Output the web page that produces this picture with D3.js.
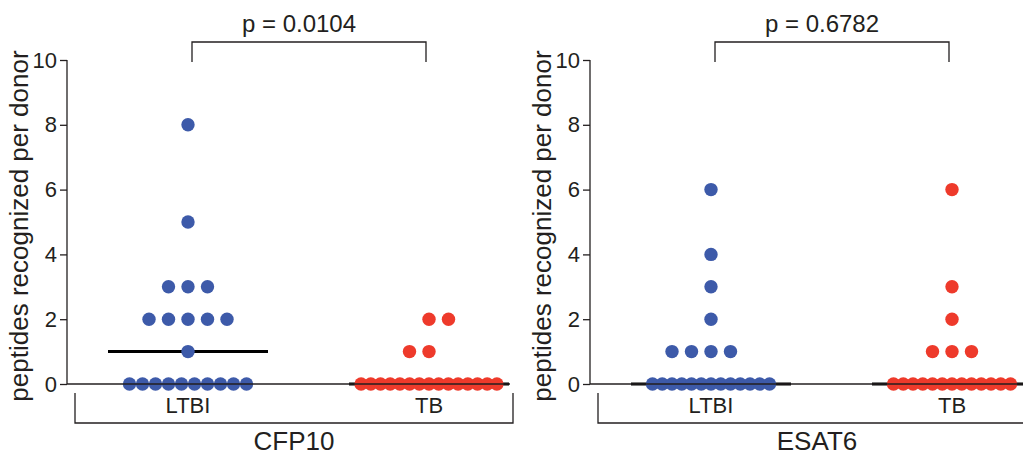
<!DOCTYPE html>
<html>
<head>
<meta charset="utf-8">
<script src="https://cdn.jsdelivr.net/npm/d3@7"></script>
<style>
  html, body { margin: 0; padding: 0; background: #fff; }
  svg { display: block; font-family: Arial, "Liberation Sans", Helvetica, sans-serif; }
</style>
</head>
<body>
<svg id="chart" width="1023" height="455"></svg>
<script>
// ---- data ----
const categories = ["LTBI", "TB"];
const antigens = ["CFP10", "ESAT6"];
const pValues = ["p = 0.0104", "p = 0.6782"];
const yTicks = [0, 2, 4, 6, 8, 10];
const yLabel = "peptides recognized per donor";

const cfp10_LTBI = [0,0,0,0,0,0,0,0,0,0, 1, 2,2,2,2,2, 3,3,3, 5, 8];
const cfp10_TB   = [0,0,0,0,0,0,0,0,0,0,0,0,0,0,0, 1,1, 2,2];
const esat6_LTBI = [0,0,0,0,0,0,0,0,0,0,0,0,0, 1,1,1,1, 2, 3, 4, 6];
const esat6_TB   = [0,0,0,0,0,0,0,0,0,0,0,0,0, 1,1,1, 2, 3, 6];

const seriesByAntigen = [
  { LTBI: cfp10_LTBI, TB: cfp10_TB },
  { LTBI: esat6_LTBI, TB: esat6_TB }
];
const colors = { LTBI: "#3d5aa9", TB: "#ee3a2b" };

// ---- layout ----
const svg = d3.select("#chart");
const ink = "#231f20";
const panelOrigins = [67, 590];
const yTop = 60, yBottom = 384;
const y = d3.scaleLinear().domain([0, 10]).range([yBottom, yTop]);
const r = 6.7;
const fullStep = 19.5, minStep = 9.7, maxSpan = 117;

panelOrigins.forEach((ox, pi) => {
  const g = svg.append("g");
  const x = d3.scalePoint().domain(categories).range([ox + 121, ox + 362]);

  // y axis
  const ax = g.append("g")
    .attr("transform", `translate(${ox},0)`)
    .call(d3.axisLeft(y).tickValues(yTicks).tickSize(7).tickPadding(3).tickFormat(d3.format("d")));
  ax.select(".domain").attr("d", `M0,${yTop}V${yBottom}`).attr("stroke", ink).attr("stroke-width", 1.3);
  ax.selectAll(".tick line").attr("stroke", ink).attr("stroke-width", 1.3);
  ax.selectAll(".tick text").attr("fill", ink).style("font-size", "22px")
    .style("font-family", "Arial, 'Liberation Sans', sans-serif");

  // y label
  g.append("text")
    .attr("transform", `translate(${ox - 39},${(yTop + yBottom) / 2 + 4}) rotate(-90)`)
    .attr("text-anchor", "middle")
    .attr("fill", ink)
    .style("font-size", "26px")
    .text(yLabel);

  // median lines
  categories.forEach(c => {
    const m = d3.median(seriesByAntigen[pi][c]);
    g.append("line")
      .attr("x1", x(c) - 80).attr("x2", x(c) + 80)
      .attr("y1", y(m)).attr("y2", y(m))
      .attr("stroke", "#000").attr("stroke-width", 3);
  });

  // dots
  categories.forEach(c => {
    const vals = seriesByAntigen[pi][c];
    const groups = d3.groups(vals, d => d);
    groups.forEach(([v, arr]) => {
      const n = arr.length;
      const step = n > 1 ? Math.max(minStep, Math.min(fullStep, maxSpan / (n - 1))) : 0;
      arr.forEach((d, i) => {
        let off;
        if (n % 2 === 1 || step < fullStep) off = (i - (n - 1) / 2) * step;
        else off = (i - n / 2 + (v % 2 === 0 ? 1 : 0)) * step;
        g.append("circle")
          .attr("cx", x(c) + off)
          .attr("cy", y(d))
          .attr("r", r)
          .attr("fill", colors[c]);
      });
    });
  });

  // x axis baseline
  g.append("line")
    .attr("x1", ox).attr("x2", ox + 443)
    .attr("y1", yBottom).attr("y2", yBottom)
    .attr("stroke", ink).attr("stroke-width", 1.3);

  // category labels
  categories.forEach(c => {
    g.append("text")
      .attr("x", x(c)).attr("y", 413)
      .attr("text-anchor", "middle")
      .attr("fill", ink)
      .style("font-size", "22px")
      .text(c);
  });

  // bottom group bracket
  const bx1 = ox + 8, bx2 = ox + 446;
  g.append("path")
    .attr("d", `M${bx1},393V423H${bx2}V393`)
    .attr("fill", "none").attr("stroke", ink).attr("stroke-width", 1.3);
  g.append("text")
    .attr("x", (bx1 + bx2) / 2).attr("y", 450)
    .attr("text-anchor", "middle")
    .attr("fill", ink)
    .style("font-size", "26px")
    .text(antigens[pi]);

  // p-value bracket
  const px1 = ox + 125, px2 = ox + 359;
  g.append("path")
    .attr("d", `M${px1},62V42H${px2}V62`)
    .attr("fill", "none").attr("stroke", ink).attr("stroke-width", 1.3);
  g.append("text")
    .attr("x", (px1 + px2) / 2 - 10).attr("y", 32)
    .attr("text-anchor", "middle")
    .attr("fill", ink)
    .style("font-size", "24px")
    .text(pValues[pi]);
});
</script>
</body>
</html>
